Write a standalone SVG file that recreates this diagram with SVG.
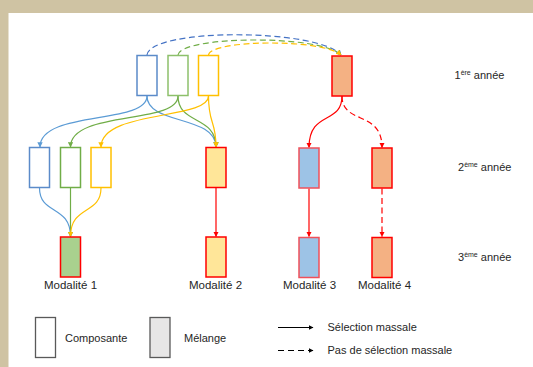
<svg xmlns="http://www.w3.org/2000/svg" width="533" height="367" viewBox="0 0 533 367">
<defs>
<style>
.t{font-family:"Liberation Sans",Arial,sans-serif;font-size:11px;fill:#262626}
.lbl{font-family:"Liberation Sans",Arial,sans-serif;font-size:11.5px;fill:#262626}
.sup{font-size:7px}
.box{stroke-width:1.5}
.c{fill:none;stroke-width:1.2}
.d{stroke-dasharray:6 3.5}
</style>
<marker id="aB" viewBox="0 0 10 10" refX="9" refY="5" markerWidth="4.5" markerHeight="4.5" orient="auto"><path d="M0,0L10,5L0,10z" fill="#5B9BD5"/></marker>
<marker id="aBd" viewBox="0 0 10 10" refX="9" refY="5" markerWidth="4.5" markerHeight="4.5" orient="auto"><path d="M0,0L10,5L0,10z" fill="#4472C4"/></marker>
<marker id="aG" viewBox="0 0 10 10" refX="9" refY="5" markerWidth="4.5" markerHeight="4.5" orient="auto"><path d="M0,0L10,5L0,10z" fill="#70AD47"/></marker>
<marker id="aY" viewBox="0 0 10 10" refX="9" refY="5" markerWidth="4.5" markerHeight="4.5" orient="auto"><path d="M0,0L10,5L0,10z" fill="#FFC000"/></marker>
<marker id="aR" viewBox="0 0 10 10" refX="9" refY="5" markerWidth="4.5" markerHeight="4.5" orient="auto"><path d="M0,0L10,5L0,10z" fill="#FF0000"/></marker>
<marker id="aK" viewBox="0 0 10 10" refX="9" refY="5" markerWidth="5" markerHeight="5" orient="auto"><path d="M0,0L10,5L0,10z" fill="#000"/></marker>
</defs>
<rect x="0" y="0" width="533" height="367" fill="#fff"/>
<rect x="0" y="0" width="533" height="13" fill="#CFC3A3"/>
<rect x="0" y="0" width="8.5" height="367" fill="#CFC3A3"/>

<g id="connectors">
<path class="c d" stroke="#4472C4" d="M147,55 C150,28 318,28 341,55" marker-end="url(#aBd)"/>
<path class="c d" stroke="#70AD47" d="M178,55 C180,36 320,34 341,55" marker-end="url(#aG)"/>
<path class="c d" stroke="#FFC000" d="M208.5,55 C210,40 322,38 341,55" marker-end="url(#aY)"/>

<path class="c" stroke="#5B9BD5" d="M147,96 C147,125 40,110 40,147" marker-end="url(#aB)"/>
<path class="c" stroke="#5B9BD5" d="M147,96 C147,125 216,115 216,147" marker-end="url(#aB)"/>
<path class="c" stroke="#70AD47" d="M178,96 C178,125 70.5,110 70.5,147" marker-end="url(#aG)"/>
<path class="c" stroke="#70AD47" d="M178,96 C178,125 216,115 216,147" marker-end="url(#aG)"/>
<path class="c" stroke="#FFC000" d="M208.5,96 C208.5,120 101,110 101,147" marker-end="url(#aY)"/>
<path class="c" stroke="#FFC000" d="M208.5,96 C208.5,125 216,120 216,147" marker-end="url(#aY)"/>

<path class="c" stroke="#FF0000" d="M342,96 C342,125 309,110 309,147.5" marker-end="url(#aR)"/>
<path class="c d" stroke="#FF0000" d="M342,96 C342,125 382,110 382,147.5" marker-end="url(#aR)"/>

<path class="c" stroke="#5B9BD5" d="M39.5,188 C39.5,215 70.5,205 70.5,236.5" marker-end="url(#aB)"/>
<path class="c" stroke="#70AD47" d="M70.5,188 L70.5,236.5" marker-end="url(#aG)"/>
<path class="c" stroke="#FFC000" d="M101,188 C101,215 70.5,205 70.5,236.5" marker-end="url(#aY)"/>

<path class="c" stroke="#FF0000" d="M216,188 L216,236.5" marker-end="url(#aR)"/>
<path class="c" stroke="#FF0000" d="M309,188.5 L309,236.5" marker-end="url(#aR)"/>
<path class="c d" stroke="#FF0000" d="M382,188.5 L382,236.5" marker-end="url(#aR)"/>
</g>

<g id="row1-blue"><rect class="box" x="137" y="55.5" width="20" height="40" fill="#fff" stroke="#5B8BC9"/></g>
<g id="row1-green"><rect class="box" x="168" y="55.5" width="20" height="40" fill="#fff" stroke="#8DC06B"/></g>
<g id="row1-yellow"><rect class="box" x="198.5" y="55.5" width="20" height="40" fill="#fff" stroke="#FFC000"/></g>
<g id="row1-orange"><rect class="box" x="332" y="56" width="20" height="40" fill="#F4B183" stroke="#FF0000"/></g>

<g id="row2-blue"><rect class="box" x="29.5" y="147.5" width="20" height="40" fill="#fff" stroke="#5B8BC9"/></g>
<g id="row2-green"><rect class="box" x="60.5" y="147.5" width="20" height="40" fill="#fff" stroke="#70AD47"/></g>
<g id="row2-yellow"><rect class="box" x="91" y="147.5" width="20" height="40" fill="#fff" stroke="#FFC000"/></g>
<g id="row2-mod2"><rect class="box" x="206" y="147.5" width="20" height="40" fill="#FFE699" stroke="#FF0000"/></g>
<g id="row2-mod3"><rect class="box" x="299" y="148" width="20" height="40" fill="#9DC3E6" stroke="#F0505A"/></g>
<g id="row2-mod4"><rect class="box" x="372" y="148" width="20" height="40" fill="#F4B183" stroke="#FF0000"/></g>

<g id="mod1"><rect class="box" x="60.5" y="237" width="20" height="40" fill="#A9D18E" stroke="#FF0000"/><text class="lbl" x="70.5" y="289" text-anchor="middle">Modalité 1</text></g>
<g id="mod2"><rect class="box" x="206" y="237" width="20" height="40" fill="#FFE699" stroke="#FF0000"/><text class="lbl" x="215.5" y="289" text-anchor="middle">Modalité 2</text></g>
<g id="mod3"><rect class="box" x="299" y="237.5" width="20" height="40" fill="#9DC3E6" stroke="#F0505A"/><text class="lbl" x="309.5" y="289" text-anchor="middle">Modalité 3</text></g>
<g id="mod4"><rect class="box" x="372" y="237.5" width="20" height="40" fill="#F4B183" stroke="#FF0000"/><text class="lbl" x="384.5" y="289" text-anchor="middle">Modalité 4</text></g>

<g id="years">
<text class="t" x="454.5" y="79">1<tspan class="sup" dy="-4">ère</tspan><tspan dy="4"> année</tspan></text>
<text class="t" x="458" y="171">2<tspan class="sup" dy="-4">ème</tspan><tspan dy="4"> année</tspan></text>
<text class="t" x="458" y="261">3<tspan class="sup" dy="-4">ème</tspan><tspan dy="4"> année</tspan></text>
</g>

<g id="legend">
<rect x="35.5" y="317.5" width="20" height="40" fill="#fff" stroke="#595959" stroke-width="1.3"/>
<text class="t" x="65" y="342">Composante</text>
<rect x="150" y="317.5" width="20" height="40" fill="#E7E6E6" stroke="#595959" stroke-width="1.3"/>
<text class="t" x="184" y="342">Mélange</text>
<path d="M278,327.5 L313,327.5" stroke="#000" stroke-width="1" marker-end="url(#aK)"/>
<text class="t" x="327.5" y="331">Sélection massale</text>
<path d="M278,350.5 L313,350.5" stroke="#000" stroke-width="1" stroke-dasharray="6 4" marker-end="url(#aK)"/>
<text class="t" x="327.5" y="354">Pas de sélection massale</text>
</g>
</svg>
